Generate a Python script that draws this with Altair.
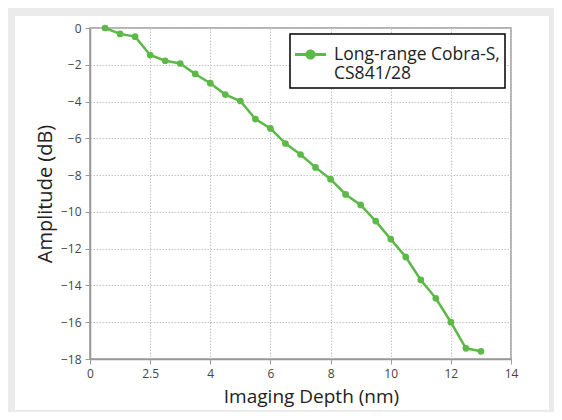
import altair as alt
import pandas as pd

depth = [0.5, 1.0, 1.5, 2.0, 2.5, 3.0, 3.5, 4.0, 4.5, 5.0, 5.5, 6.0, 6.5,
         7.0, 7.5, 8.0, 8.5, 9.0, 9.5, 10.0, 10.5, 11.0, 11.5, 12.0, 12.5, 13.0]
amp = [0.0, -0.32, -0.47, -1.47, -1.78, -1.93, -2.5, -3.0, -3.62, -3.97,
       -4.95, -5.46, -6.28, -6.88, -7.58, -8.22, -9.05, -9.62, -10.5, -11.48,
       -12.45, -13.7, -14.7, -16.0, -17.42, -17.58]
series_name = "Long-range Cobra-S,|CS841/28"
x_ticks = [0, 2, 4, 6, 8, 10, 12, 14]
x_labels = ["0", "2.5", "4", "6", "8", "10", "12", "14"]
y_ticks = [0, -2, -4, -6, -8, -10, -12, -14, -16, -18]

GREEN = "#5cb947"
FRAME = "#ebebeb"
FONT = "Open Sans"
W, H = 421, 331

df = pd.DataFrame({"depth": depth, "amp": amp, "series": series_name})

# label expression built from the tick arrays
expr = "datum.label"
for v, lab in zip(reversed(x_ticks), reversed(x_labels)):
    expr = f"datum.value == {v} ? '{lab}' : ({expr})"

one = pd.DataFrame({"a": [0]})


def strip(x1, x2, y1, y2):
    return alt.Chart(one).mark_rect(color=FRAME).encode(
        x=alt.value(x1), x2=alt.value(x2), y=alt.value(y1), y2=alt.value(y2))


frame = [
    strip(-82, -75, -20, 384),
    strip(-82, 464, -20, -12),
    strip(459, 464, -20, 384),
    strip(-82, 464, 382, 384),
]

xenc = alt.X("depth:Q", scale=alt.Scale(domain=[0, 14], nice=False),
             axis=alt.Axis(title="Imaging Depth (nm)", values=x_ticks,
                           labelExpr=expr, titleX=221, labelOverlap=False,
                           titleFontSize=19))
yenc = alt.Y("amp:Q", scale=alt.Scale(domain=[-18, 0], nice=False),
             axis=alt.Axis(title="Amplitude (dB)", values=y_ticks, titleX=-35,
                           labelOverlap=False, labelBound=False, labelFlush=False,
                           labelSeparation=0, titleFontSize=20))

legend_kw = dict(
    title=None, orient="none", legendX=200, legendY=6,
    symbolType="M-1,-0.1H-0.3V0.1H-1Z M0.3,-0.1H1V0.1H0.3Z M0.33,0A0.33,0.33,0,1,1,-0.33,0A0.33,0.33,0,1,1,0.33,0Z",
    symbolSize=961, symbolStrokeWidth=0,
    labelExpr="split(datum.label, '|')",
    labelFontSize=17.5, labelFont=FONT, labelColor="#222",
    labelLimit=400, labelOffset=8,
    strokeColor="black", fillColor="white", padding=5,
)


def build(extra):
    base = alt.Chart(df)
    line = base.mark_line(color=GREEN, strokeWidth=2.5).encode(x=xenc, y=yenc)
    pts = base.mark_circle(size=45, opacity=1).encode(
        x=xenc, y=yenc,
        color=alt.Color("series:N", scale=alt.Scale(range=[GREEN]),
                        legend=alt.Legend(**legend_kw, **extra)),
    )
    return alt.layer(*frame, line, pts).properties(
        width=W, height=H,
        background="white",
        padding={"left": 82, "top": 20, "right": 43, "bottom": 53},
        autosize=alt.AutoSizeParams(type="none"),
    ).configure_view(
        stroke="#999999", strokeWidth=1.5
    ).configure_axis(
        labelFont=FONT, labelFontSize=12, labelColor="#444",
        titleFont=FONT, titleFontSize=18, titleFontWeight="normal", titleColor="#222",
        domainColor="#999999", domainWidth=1.5, tickColor="#999999", tickSize=5,
        gridColor="#c4c4c4", gridDash=[1.5, 1.5], gridWidth=1,
        labelPadding=4, labelFlush=False, labelOverlap=False,
    ).configure_axisX(
        titlePadding=8
    ).configure_legend(
        strokeWidth=1.5
    )


try:
    chart = build({"labelLineHeight": 23})
    chart.to_dict()
except Exception:
    chart = build({})

chart.save("out.html", embed_options={"renderer": "svg", "actions": False})
